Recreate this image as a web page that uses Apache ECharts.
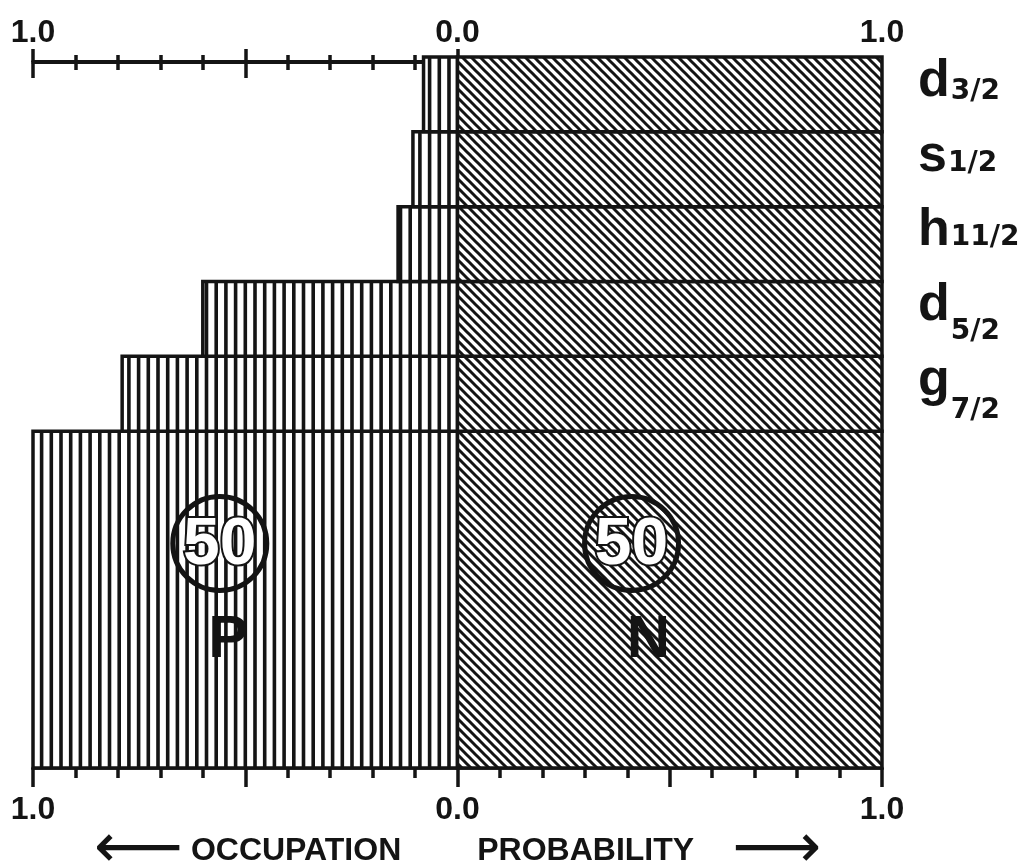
<!DOCTYPE html>
<html>
<head>
<meta charset="utf-8">
<style>
html, body { margin: 0; padding: 0; background: #fff; }
#chart { width: 1023px; height: 867px; }
</style>
</head>
<body>
<div id="chart"></div>
<script src="https://cdn.jsdelivr.net/npm/echarts@6/dist/echarts.min.js"></script>
<script>
// shells above the 50 core, listed bottom to top
const levelNames = ['g', 'd', 'h', 's', 'd'];
const levelSubs = ['7/2', '5/2', '11/2', '1/2', '3/2'];
const protonOcc = [0.79, 0.60, 0.14, 0.105, 0.08];
const neutronOcc = [1.0, 1.0, 1.0, 1.0, 1.0];
const coreOcc = [1.0, 1.0]; // protons, neutrons
const coreCount = [50, 50];
const coreLetters = ['P', 'N'];
const tickLabels = ['1.0', '', '0.0', '', '1.0']; // at -1, -0.5, 0, 0.5, 1

// layout only
const coreHeight = 4.5; // in level units
const badgeAt = [[-0.56, 3.0], [0.41, 3.0]];
const letterAt = [[-0.54, 1.7], [0.45, 1.7]];
const subDrop = [23, 19, 0, 0, 3];

const INK = '#141414';
const FONT = '"Liberation Sans", Arial, sans-serif';

function makePattern(kind) {
  const c = document.createElement('canvas');
  const g = c.getContext('2d');
  if (kind === 'v') {
    c.width = 97; c.height = 4;
    g.fillStyle = '#fff'; g.fillRect(0, 0, 97, 4);
    g.fillStyle = INK;
    for (let i = 0; i < 10; i++) g.fillRect(i * 9.7 + 1, 0, 3.6, 4);
  } else {
    c.width = 9; c.height = 9;
    g.fillStyle = '#fff'; g.fillRect(0, 0, 9, 9);
    g.strokeStyle = INK; g.lineWidth = 3;
    [-9, 0, 9].forEach(function (k) {
      g.beginPath(); g.moveTo(k - 3, -3); g.lineTo(k + 12, 12); g.stroke();
    });
  }
  return { image: c, repeat: 'repeat' };
}
const fills = [makePattern('v'), makePattern('d')];

// [xStart, xEnd, yStart, yEnd, side]  side 0 = protons, 1 = neutrons
const bars = [];
bars.push([-coreOcc[0], 0, 0, coreHeight, 0]);
bars.push([0, coreOcc[1], 0, coreHeight, 1]);
protonOcc.forEach(function (p, i) {
  const y0 = coreHeight + i;
  bars.push([-p, 0, y0, y0 + 1, 0]);
  bars.push([0, neutronOcc[i], y0, y0 + 1, 1]);
});

const measureCtx = document.createElement('canvas').getContext('2d');
function textWidth(s, font) {
  measureCtx.font = font;
  return measureCtx.measureText(s).width;
}

const tickFmt = function (v) {
  return tickLabels[Math.round((v + 1) * 2)] || '';
};
const lineStyle = { color: INK, width: 3.5 };

const option = {
  backgroundColor: '#fff',
  animation: false,
  grid: [
    { left: 33, right: 141, top: 57, bottom: 99, outerBoundsMode: 'none' },
    { left: 33, width: 424.5, top: 62, height: 1, outerBoundsMode: 'none' }
  ],
  xAxis: [
    {
      gridIndex: 0, type: 'value', position: 'bottom', min: -1, max: 1, interval: 0.5,
      axisLine: { show: true, onZero: false, lineStyle: lineStyle },
      axisTick: { show: true, length: 19, lineStyle: lineStyle },
      minorTick: { show: true, splitNumber: 5, length: 10, lineStyle: lineStyle },
      splitLine: { show: false },
      minorSplitLine: { show: false },
      axisLabel: {
        formatter: tickFmt, margin: 26, fontSize: 32, fontWeight: 'bold',
        fontFamily: FONT, color: INK, showMinLabel: true, showMaxLabel: true
      },
      name: '{a|\u27F5}{o|OCCUPATION}{p|PROBABILITY}{a|\u27F6}',
      nameLocation: 'middle',
      nameGap: 65,
      nameMoveOverlap: false,
      nameTextStyle: {
        lineHeight: 36,
        rich: {
          a: { fontSize: 62, lineHeight: 36, fontFamily: '"DejaVu Sans"', color: INK },
          o: { fontSize: 32, lineHeight: 36, fontWeight: 'bold', fontFamily: FONT, color: INK, padding: [0, 38, 0, 8] },
          p: { fontSize: 32, lineHeight: 36, fontWeight: 'bold', fontFamily: FONT, color: INK, padding: [0, 38, 0, 38] }
        }
      }
    },
    {
      gridIndex: 0, type: 'value', position: 'top', min: -1, max: 1, interval: 0.5,
      axisLine: { show: false, onZero: false },
      axisTick: { show: false },
      splitLine: { show: false },
      axisLabel: {
        formatter: tickFmt, margin: 8, fontSize: 32, fontWeight: 'bold',
        fontFamily: FONT, color: INK, showMinLabel: true, showMaxLabel: true
      }
    },
    {
      gridIndex: 1, type: 'value', position: 'top', min: -1, max: 0, interval: 0.5,
      axisLine: { show: true, onZero: false, lineStyle: { color: INK, width: 4 } },
      axisTick: { show: true, length: 13, lineStyle: lineStyle },
      minorTick: { show: true, splitNumber: 5, length: 7, lineStyle: lineStyle },
      splitLine: { show: false },
      axisLabel: { show: false }
    },
    {
      gridIndex: 1, type: 'value', position: 'bottom', min: -1, max: 0, interval: 0.5,
      axisLine: { show: false, onZero: false },
      axisTick: { show: true, length: 15, lineStyle: lineStyle },
      minorTick: { show: true, splitNumber: 5, length: 7, lineStyle: lineStyle },
      splitLine: { show: false },
      axisLabel: { show: false }
    }
  ],
  yAxis: [
    { gridIndex: 0, type: 'value', min: 0, max: coreHeight + levelNames.length, show: false },
    { gridIndex: 1, type: 'value', min: 0, max: 1, show: false }
  ],
  series: [
    {
      type: 'custom',
      xAxisIndex: 0, yAxisIndex: 0,
      clip: false,
      data: bars,
      renderItem: function (params, api) {
        const p0 = api.coord([api.value(0), api.value(3)]);
        const p1 = api.coord([api.value(1), api.value(2)]);
        return {
          type: 'rect',
          shape: { x: p0[0], y: p0[1], width: p1[0] - p0[0], height: p1[1] - p0[1] },
          style: { fill: fills[api.value(4)], stroke: INK, lineWidth: 3.5 }
        };
      }
    },
    {
      type: 'custom',
      xAxisIndex: 0, yAxisIndex: 0,
      clip: false,
      data: coreCount.map(function (n, i) {
        return [badgeAt[i][0], badgeAt[i][1], letterAt[i][0], letterAt[i][1], n, i];
      }),
      renderItem: function (params, api) {
        const c = api.coord([api.value(0), api.value(1)]);
        const l = api.coord([api.value(2), api.value(3)]);
        return {
          type: 'group',
          children: [
            { type: 'circle', shape: { cx: c[0], cy: c[1], r: 47 },
              style: { fill: 'none', stroke: INK, lineWidth: 5 } },
            { type: 'text', x: c[0], y: c[1] + 2,
              style: { text: String(api.value(4)), font: 'bold 66px ' + FONT,
                fill: '#fff', stroke: INK, lineWidth: 4, align: 'center', verticalAlign: 'middle' } },
            { type: 'text', x: l[0], y: l[1],
              style: { text: coreLetters[api.value(5)], font: 'bold 60px ' + FONT,
                fill: INK, align: 'center', verticalAlign: 'middle' } }
          ]
        };
      }
    },
    {
      type: 'custom',
      xAxisIndex: 0, yAxisIndex: 0,
      clip: false,
      data: levelNames.map(function (n, i) { return [1, coreHeight + i + 0.5, i]; }),
      renderItem: function (params, api) {
        const p = api.coord([api.value(0), api.value(1)]);
        const i = api.value(2);
        const mainFont = 'bold 52px ' + FONT;
        const subFont = 'bold 28px "DejaVu Sans"';
        const x = p[0] + 36;
        const w = textWidth(levelNames[i], mainFont);
        const base = p[1] + 4;
        return {
          type: 'group',
          children: [
            { type: 'text', x: x, y: base - 17,
              style: { text: levelNames[i], font: mainFont, fill: INK, align: 'left', verticalAlign: 'middle' } },
            { type: 'text', x: x + w + 1, y: base + subDrop[i] - 10,
              style: { text: levelSubs[i], font: subFont, fill: INK, align: 'left', verticalAlign: 'middle' } }
          ]
        };
      }
    }
  ]
};

const chartObj = echarts.init(document.getElementById('chart'));
chartObj.setOption(option);
window.addEventListener('resize', function () {
  chartObj.resize();
});
</script>
</body>
</html>
